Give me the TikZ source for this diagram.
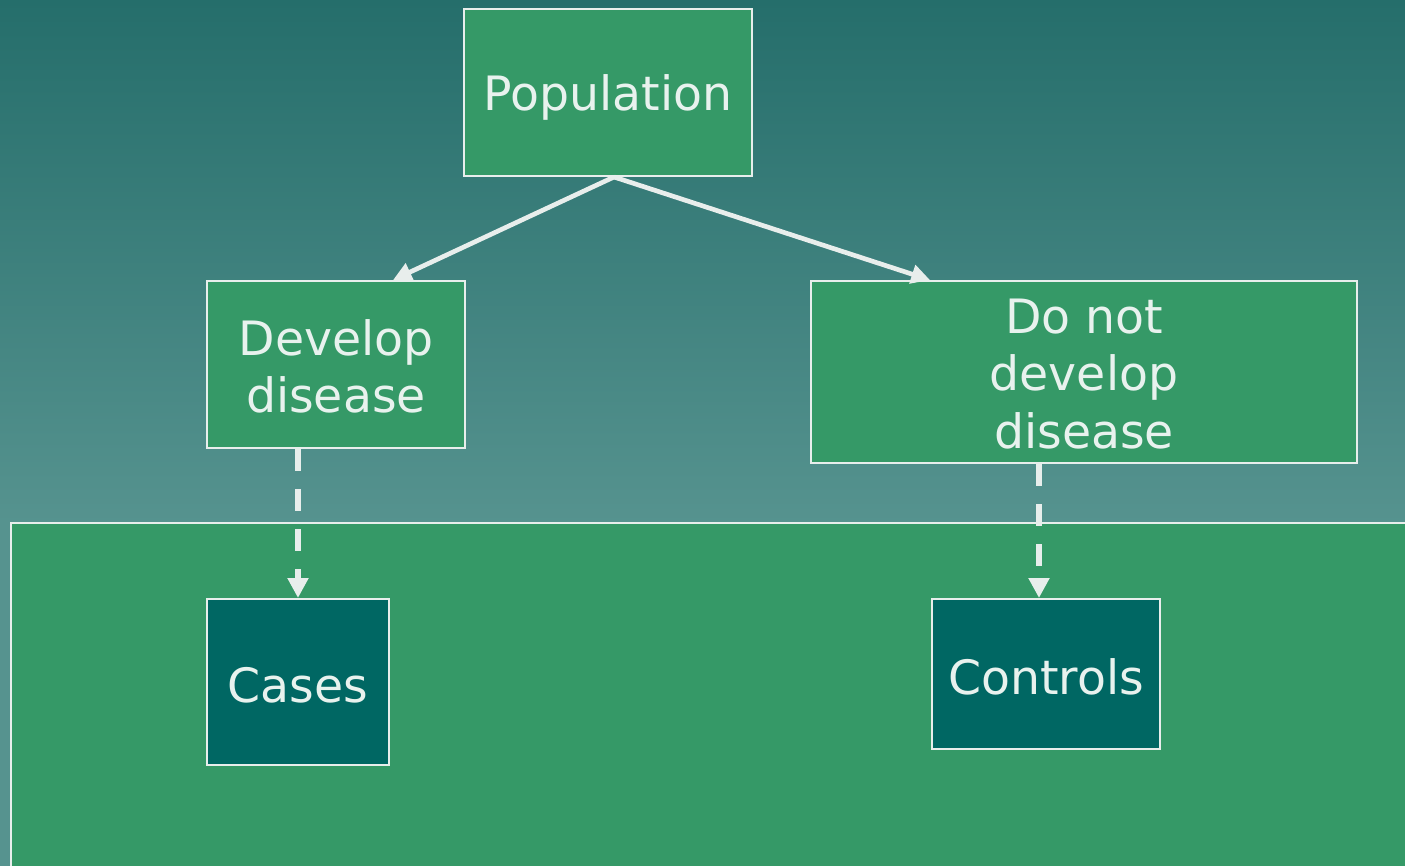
\documentclass[tikz,border=0pt]{standalone}
\usepackage{fontspec}
\setmainfont{DejaVu Sans}
\usetikzlibrary{arrows.meta,calc}
\definecolor{bgtop}{HTML}{256E6B}
\definecolor{bgbot}{HTML}{56938F}
\definecolor{boxgreen}{HTML}{359967}
\definecolor{boxteal}{HTML}{006763}
\definecolor{edge}{HTML}{E8EEEC}
\definecolor{txt}{HTML}{E8F2EE}
\tikzset{
  gbox/.style={draw=edge, line width=1.5pt, fill=boxgreen, inner sep=0pt},
  tbox/.style={gbox, fill=boxteal},
  label text/.style={text=txt, inner sep=0pt, align=center,
    font=\fontsize{35.5}{43}\selectfont},
  solidarrow/.style={draw=edge, line width=3.5pt, -{Triangle[length=14pt,width=14pt]}},
  dasharrow/.style={draw=edge, line width=5pt, dash pattern=on 16.5pt off 13.5pt,
    -{Triangle[length=15pt,width=15pt]}}
}
\begin{document}
\begin{tikzpicture}[x=0.75pt,y=-0.75pt]
\useasboundingbox (0,0) rectangle (1405,866);
\clip (0,0) rectangle (1405,866);
\shade[top color=bgtop, bottom color=bgbot] (0,0) rectangle (1405,525);
\fill[bgbot] (0,524) rectangle (1405,866);
\node[draw=edge, line width=1.5pt, fill=boxgreen, minimum width=1420*0.75pt, minimum height=370*0.75pt, inner sep=0pt, anchor=north west] (big) at (10,522) {};
\node[gbox, minimum width=288*0.75pt, minimum height=167*0.75pt] (pop) at (608,92.5) {};
\node[gbox, minimum width=258*0.75pt, minimum height=167*0.75pt] (dev) at (336,364.5) {};
\node[gbox, minimum width=546*0.75pt, minimum height=182*0.75pt] (nodev) at (1084,372) {};
\node[tbox, minimum width=182*0.75pt, minimum height=166*0.75pt] (cases) at (298,682) {};
\node[tbox, minimum width=228*0.75pt, minimum height=150*0.75pt] (controls) at (1046,674) {};
\node[label text] (popt) at ($(pop.center)+(0,5)$) {Population};
\node[label text] (devt) at ($(dev.center)+(0,2)$) {Develop\\disease};
\node[label text] (nodevt) at ($(nodev.center)+(0,2)$) {Do not\\develop\\disease};
\node[label text] (casest) at ($(cases.center)+(0,3)$) {Cases};
\node[label text] (controlst) at ($(controls.center)+(0,3)$) {Controls};
\coordinate (popout) at ($(pop.south)+(6,0)$);
\draw[solidarrow] (popout) -- ($(dev.north)+(57,0)$);
\draw[solidarrow] (popout) -- ($(nodev.north)+(-154,0)$);
\draw[dasharrow] ($(dev.south)+(-38,0)$) -- (cases.north);
\draw[dasharrow] ($(nodev.south)+(-45,0)$) -- ($(controls.north)+(-7,0)$);
\end{tikzpicture}
\end{document}
